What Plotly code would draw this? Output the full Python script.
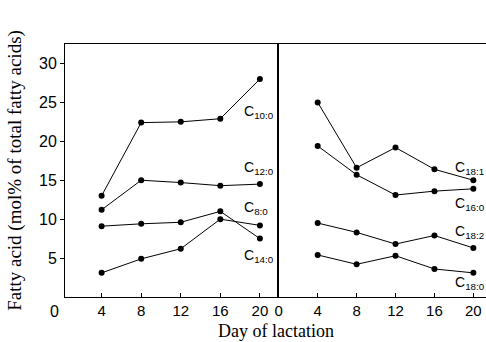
import plotly.graph_objects as go

days = [4, 8, 12, 16, 20]

# Left panel (medium-chain fatty acids), mol% of total fatty acids
c10_0 = [13.0, 22.4, 22.5, 22.9, 28.0]
c12_0 = [11.2, 15.0, 14.7, 14.3, 14.5]
c8_0 = [9.1, 9.4, 9.6, 11.0, 7.5]
c14_0 = [3.1, 4.9, 6.2, 10.0, 9.2]

# Right panel (long-chain fatty acids)
c18_1 = [25.0, 16.6, 19.2, 16.4, 15.0]
c16_0 = [19.4, 15.7, 13.1, 13.6, 13.9]
c18_2 = [9.5, 8.3, 6.8, 7.9, 6.3]
c18_0 = [5.4, 4.2, 5.3, 3.6, 3.1]

left_series = [c10_0, c12_0, c8_0, c14_0]
right_series = [c18_1, c16_0, c18_2, c18_0]

left_labels = ["C<sub>10:0</sub>", "C<sub>12:0</sub>", "C<sub>8:0</sub>", "C<sub>14:0</sub>"]
right_labels = ["C<sub>18:1</sub>", "C<sub>16:0</sub>", "C<sub>18:2</sub>", "C<sub>18:0</sub>"]
left_label_y = [23.8, 16.6, 11.4, 5.3]
right_label_y = [16.6, 12.0, 8.3, 1.8]

yticks = [5, 10, 15, 20, 25, 30]
left_xticks = [4, 8, 12, 16, 20]
right_xticks = [0, 4, 8, 12, 16, 20]

fig = go.Figure()
line_style = dict(color="black", width=1)
marker_style = dict(color="black", size=6)

for s in left_series:
    fig.add_trace(go.Scatter(x=days, y=s, mode="lines+markers", line=line_style,
                             marker=marker_style, xaxis="x", yaxis="y", showlegend=False))
for s in right_series:
    fig.add_trace(go.Scatter(x=days, y=s, mode="lines+markers", line=line_style,
                             marker=marker_style, xaxis="x2", yaxis="y2", showlegend=False))

lblfont = dict(family="Liberation Sans, Arial", size=14, color="black")
ann = []
for t, y in zip(left_labels, left_label_y):
    ann.append(dict(x=18.2, y=y, xref="x", yref="y", text=t, showarrow=False,
                    xanchor="left", yanchor="middle", font=lblfont))
for t, y in zip(right_labels, right_label_y):
    ann.append(dict(x=17.9, y=y, xref="x2", yref="y2", text=t, showarrow=False,
                    xanchor="left", yanchor="middle", font=lblfont))
# origin "0" label at lower-left corner
ann.append(dict(x=-0.01, y=-0.015, xref="paper", yref="paper", text="0", showarrow=False,
                xanchor="right", yanchor="top",
                font=dict(family="Liberation Sans, Arial", size=16, color="black")))

tickfont = dict(family="Liberation Sans, Arial", size=16, color="black")
xtickfont = dict(family="Liberation Sans, Arial", size=15, color="black")
titlefont = dict(family="Liberation Serif, Times New Roman", size=19, color="black")

split = (278 - 65) / (486 - 65)

fig.update_layout(
    width=486, height=342,
    margin=dict(l=65, r=0, t=44, b=45),
    plot_bgcolor="white", paper_bgcolor="white",
    annotations=ann,
    xaxis=dict(domain=[0, split], range=[0.3, 21.83], tickvals=left_xticks,
               ticks="inside", ticklen=4, tickcolor="black", showline=True, linecolor="black",
               mirror=True, showgrid=False, zeroline=False, tickfont=xtickfont),
    xaxis2=dict(domain=[split, 1], range=[-0.08, 21.3], tickvals=right_xticks,
                ticks="inside", ticklen=4, tickcolor="black", showline=True, linecolor="black",
                mirror=True, showgrid=False, zeroline=False, tickfont=xtickfont, anchor="y2"),
    yaxis=dict(range=[0, 32.5], tickvals=yticks, ticks="outside", ticklen=4, tickcolor="black",
               showline=True, linecolor="black", mirror=True, showgrid=False, zeroline=False,
               tickfont=tickfont,
               title=dict(text="Fatty acid (mol% of total fatty acids)", font=titlefont, standoff=12)),
    yaxis2=dict(range=[0, 32.5], anchor="x2", showticklabels=False, ticks="",
                showline=True, linecolor="black", showgrid=False, zeroline=False),
)
fig.add_annotation(x=0.5, y=-0.085, xref="paper", yref="paper", text="Day of lactation",
                   showarrow=False, xanchor="center", yanchor="top",
                   font=dict(family="Liberation Serif, Times New Roman", size=18, color="black"))

fig.write_html("out.html", config={"displayModeBar": False},
               post_script="document.body.style.margin='0';")
